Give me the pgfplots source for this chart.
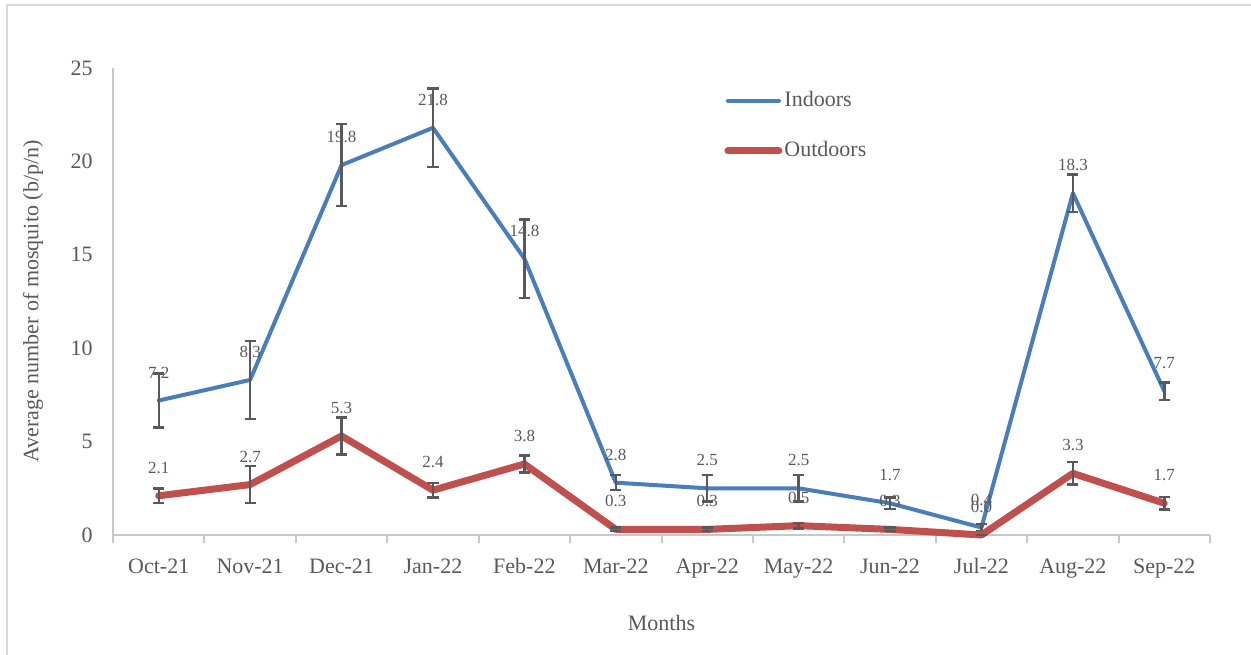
\documentclass[border=0pt]{standalone}
\usepackage{fontspec}
\setmainfont{Liberation Serif}
\usepackage{pgfplots}
\pgfplotsset{compat=1.18}

\definecolor{indoor}{HTML}{4A7EBB}
\definecolor{outdoor}{HTML}{C0504D}
\definecolor{txt}{HTML}{595959}
\definecolor{errc}{HTML}{595959}
\definecolor{axisc}{HTML}{C8C8C8}
\definecolor{framec}{HTML}{D9D9D9}

\begin{document}
\begin{tikzpicture}
% outer chart frame
\draw[framec, line width=1pt] (3.5pt,-5pt) -- (3.5pt,324.5pt) -- (640pt,324.5pt);

\begin{axis}[
  at={(56.5pt,59.5pt)}, anchor=south west,
  scale only axis, width=548.5pt, height=233.5pt,
  xmin=-0.5, xmax=11.5, ymin=0, ymax=25,
  axis x line=bottom, axis y line=left,
  axis line style={-, draw=axisc, line width=1pt},
  xtick={0,...,11},
  xticklabels={Oct-21,Nov-21,Dec-21,Jan-22,Feb-22,Mar-22,Apr-22,May-22,Jun-22,Jul-22,Aug-22,Sep-22},
  major x tick style={draw=none},
  minor xtick={-0.5,0.5,...,11.5},
  minor x tick style={draw=axisc, line width=1pt},
  xtick align=outside, minor tick length=4pt,
  ytick={0,5,...,25},
  ytick style={draw=none},
  tick label style={font=\fontsize{11}{13}\selectfont, text=txt},
  xticklabel style={yshift=-4pt},
  yticklabel style={xshift=-4.5pt},
  /pgf/number format/assume math mode=true,
  xlabel={Months},
  ylabel={Average number of mosquito (b/p/n)},
  label style={font=\fontsize{11}{13}\selectfont, text=txt},
  xlabel style={at={(axis description cs:0.5,-0.188)}, anchor=center},
  ylabel style={at={(axis description cs:-0.073,0.5)}, anchor=center, rotate=0},
  legend style={at={(axis description cs:0.557,0.955)}, anchor=north west,
    draw=none, fill=none, inner sep=0pt, row sep=14pt,
    font=\fontsize{11}{13}\selectfont, text=txt,
    nodes={inner sep=1pt}},
  legend cell align=left,
  legend image code/.code={\draw[#1] (0pt,0pt) -- (25.5pt,0pt);},
  nodes near coords,
  every node near coord/.append style={font=\fontsize{8.5}{10}\selectfont, text=txt,
    anchor=center, yshift=14pt,
    /pgf/number format/.cd, fixed, fixed zerofill, precision=1, assume math mode=true},
  clip=false,
]
% Indoors
\addplot+[indoor, line width=2pt, line join=round, line cap=round, mark=none,
  error bars/.cd, y dir=both, y explicit,
  error bar style={errc, line width=1.2pt, line cap=butt},
  error mark options={errc, line width=1.2pt, mark size=2.8pt, rotate=90}]
coordinates {
  (0,7.2) +- (0,1.45)
  (1,8.3) +- (0,2.1)
  (2,19.8) +- (0,2.2)
  (3,21.8) +- (0,2.1)
  (4,14.8) +- (0,2.1)
  (5,2.8) +- (0,0.4)
  (6,2.5) +- (0,0.7)
  (7,2.5) +- (0,0.7)
  (8,1.7) +- (0,0.3)
  (9,0.4) +- (0,0.2)
  (10,18.3) +- (0,1.0)
  (11,7.7) +- (0,0.47)
};
\addlegendentry{Indoors}
% Outdoors
\addplot+[outdoor, line width=3.5pt, line join=round, line cap=round, mark=none,
  error bars/.cd, y dir=both, y explicit,
  error bar style={errc, line width=1.2pt, line cap=butt},
  error mark options={errc, line width=1.2pt, mark size=2.8pt, rotate=90}]
coordinates {
  (0,2.1) +- (0,0.4)
  (1,2.7) +- (0,1.0)
  (2,5.3) +- (0,1.0)
  (3,2.4) +- (0,0.4)
  (4,3.8) +- (0,0.45)
  (5,0.3) +- (0,0.1)
  (6,0.3) +- (0,0.1)
  (7,0.5) +- (0,0.15)
  (8,0.3) +- (0,0.1)
  (9,0.0) +- (0,0.0)
  (10,3.3) +- (0,0.6)
  (11,1.7) +- (0,0.33)
};
\addlegendentry{Outdoors}
\end{axis}
\pgfresetboundingbox
\path[use as bounding box] (0,0) rectangle (625.5pt,327pt);
\end{tikzpicture}
\end{document}
